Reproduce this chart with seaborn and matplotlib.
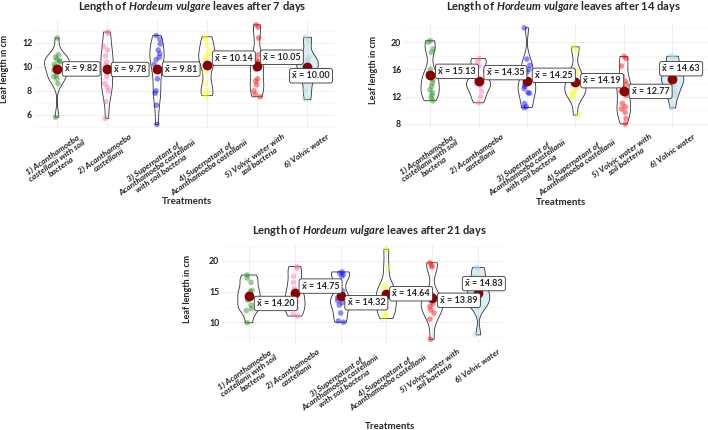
import numpy as np
import pandas as pd
import matplotlib
matplotlib.use("Agg")
import matplotlib.pyplot as plt
import seaborn as sns

# treatments (x axis) and point colours
treatments = [
    "1) Acanthamoeba\ncastellanii with soil\nbacteria",
    "2) Acanthamoeba\ncastellanii",
    "3) Supernatant of\nAcanthamoeba castellanii\nwith soil bacteria",
    "4) Supernatant of\nAcanthamoeba castellanii",
    "5) Volvic water with\nsoil bacteria",
    "6) Volvic water",
]
colors = ["forestgreen", "hotpink", "blue", "yellow", "red", "lightblue"]

# leaf lengths (cm), one list per treatment
day7 = [
    [12.4, 11.0, 10.8, 10.6, 10.5, 10.4, 10.2, 10.0, 9.7, 9.3, 9.2, 9.0, 8.6, 5.8],
    [12.9, 12.8, 11.7, 11.4, 10.9, 10.4, 10.1, 9.8, 9.2, 8.6, 8.3, 8.0, 7.1, 5.7],
    [12.6, 12.3, 11.9, 11.4, 11.1, 10.8, 10.6, 10.2, 9.6, 9.0, 8.0, 7.8, 6.8, 5.2],
    [12.5, 12.3, 11.8, 11.3, 11.0, 10.8, 10.5, 10.2, 9.5, 8.6, 8.0, 7.7, 7.6],
    [13.5, 13.3, 12.4, 11.0, 10.4, 10.6, 10.2, 9.8, 9.0, 8.8, 8.5, 8.0, 7.7, 7.5],
    [12.5, 12.2, 10.6, 10.8, 10.5, 10.3, 10.0, 9.7, 9.3, 8.8, 8.0, 7.3],
]
day14 = [
    [20.2, 20.0, 19.0, 18.5, 16.0, 14.8, 15.4, 14.5, 14.0, 13.5, 13.0, 12.6, 12.2, 11.8, 11.4],
    [17.6, 17.2, 16.5, 14.6, 13.9, 14.2, 13.6, 12.8, 12.0, 11.1],
    [22.1, 17.5, 16.6, 16.0, 15.6, 14.2, 13.8, 13.5, 13.2, 12.5, 12.6, 11.0, 10.5, 10.4],
    [19.3, 18.8, 15.8, 15.3, 14.5, 14.0, 13.5, 13.0, 12.6, 12.3, 11.9, 9.3],
    [17.9, 17.6, 16.5, 15.0, 14.3, 13.8, 13.2, 12.8, 12.2, 11.0, 10.5, 10.2, 9.7, 8.8, 8.0],
    [18.0, 17.8, 16.5, 15.5, 14.8, 14.2, 14.9, 12.8, 13.8, 12.2, 10.4],
]
day21 = [
    [17.7, 17.2, 16.5, 15.2, 15.0, 14.2, 13.6, 12.8, 12.2, 11.9, 9.9],
    [19.1, 18.8, 17.5, 16.5, 15.5, 14.8, 14.0, 13.4, 12.8, 12.3, 11.3, 11.0],
    [18.2, 18.0, 17.8, 17.5, 15.1, 14.0, 13.5, 13.2, 12.8, 11.5, 10.2, 10.0],
    [21.9, 18.9, 16.0, 15.5, 14.8, 14.0, 13.5, 12.8, 11.8, 11.2, 10.6],
    [19.7, 19.3, 19.0, 13.7, 14.4, 13.8, 13.0, 12.6, 12.0, 11.5, 10.5, 7.2],
    [19.0, 18.8, 17.5, 16.5, 15.8, 15.0, 14.5, 14.0, 13.2, 13.3, 12.4, 8.0],
]

# where each mean label sits relative to its mean dot (pixels)
nudge7 = [(8, 0, "left"), (7, 0, "left"), (8, 0, "left"), (8, 7, "left"), (6, 9, "left"), (4, -9, "center")]
nudge14 = [(8, 4, "left"), (8, 8, "left"), (8, 6, "left"), (8, 1, "left"), (8, 0, "left"), (9, 10, "center")]
nudge21 = [(8, -7, "left"), (7, 7, "left"), (7, -7, "left"), (6, 0, "left"), (8, -2, "left"), (6, 9, "center")]

sns.set_style("white")
plt.rcParams["font.family"] = ["Lato", "DejaVu Sans"]
plt.rcParams["mathtext.fontset"] = "custom"
plt.rcParams["mathtext.it"] = "Lato:italic:bold"
plt.rcParams["mathtext.rm"] = "Lato:bold"
np.random.seed(3)

fig = plt.figure(figsize=(7.08, 4.30), dpi=100)
W, H = 708, 430


def panel(box, groups, nudges, days, xlim, ylim, yticks, yminor, xlab_pos, ylab_x, title_pad):
    left, top, right, bottom = box
    ax = fig.add_axes([left / W, 1 - bottom / H, (right - left) / W, (bottom - top) / H])
    df = pd.DataFrame({
        "treatment": np.repeat(treatments, [len(g) for g in groups]),
        "length": np.concatenate(groups),
    })
    sns.violinplot(data=df, x="treatment", y="length", order=treatments, hue="treatment",
                   hue_order=treatments, palette=colors, legend=False, cut=0, inner=None,
                   density_norm="area", common_norm=True, width=0.5, linewidth=0.6,
                   linecolor="#333333", bw_method="silverman", bw_adjust=0.6, ax=ax)
    for i, coll in enumerate(ax.collections):
        coll.set_facecolor("none" if i < 5 else (0.68, 0.85, 0.90, 0.45))
    sns.stripplot(data=df, x="treatment", y="length", order=treatments, hue="treatment",
                  hue_order=treatments, palette=colors, legend=False, alpha=0.45, size=4,
                  jitter=0.07, linewidth=0, ax=ax)
    sns.pointplot(data=df, x="treatment", y="length", order=treatments, estimator="mean",
                  errorbar=None, linestyle="none", color="darkred", markersize=5, ax=ax)
    for c in ax.collections[-1:]:
        c.set_zorder(6)
    for line in ax.lines:
        line.set_zorder(6)

    means = df.groupby("treatment", sort=False)["length"].mean()
    for i, t in enumerate(treatments):
        dx, dy, ha = nudges[i]
        ax.annotate(f"x\u0304 = {means[t]:.2f}", xy=(i, means[t]), xytext=(dx, dy),
                    textcoords="offset pixels", ha=ha, va="center", fontsize=6.5,
                    fontweight="bold", zorder=10,
                    bbox=dict(boxstyle="round,pad=0.3,rounding_size=0.25", fc="white",
                              ec="#333333", lw=0.6))

    ax.set_xlim(*xlim)
    ax.set_ylim(*ylim)
    ax.set_yticks(yticks)
    ax.set_yticks(yminor, minor=True)
    ax.set_axisbelow(True)
    ax.grid(which="major", color="#ebebeb", lw=0.6)
    ax.grid(which="minor", axis="y", color="#f4f4f4", lw=0.5)
    for s in ax.spines.values():
        s.set_visible(False)
    ax.tick_params(axis="y", length=0, pad=2, labelsize=6.3)
    ax.tick_params(axis="x", length=0, pad=3.5)
    ax.tick_params(which="minor", length=0)
    for lab in ax.get_yticklabels():
        lab.set_fontweight("bold")
        lab.set_color("#222222")
    ax.set_xticks(range(6))
    ax.set_xticklabels(treatments, rotation=35, ha="center", va="top", fontstyle="italic",
                       fontweight="bold", fontsize=6, linespacing=0.95,
                       multialignment="center", color="#222222")
    ax.set_xlabel("Treatments", fontsize=7, fontweight="bold")
    ax.xaxis.set_label_coords(*xlab_pos)
    ax.xaxis.label.set_va("center")
    ax.set_ylabel("Leaf length in cm", fontsize=6.5, fontweight="bold")
    ax.yaxis.set_label_coords(ylab_x, 0.55)
    ax.yaxis.label.set_va("center")
    ax.text(0.525, 1 + title_pad / (bottom - top),
            f"Length of $Hordeum\\ vulgare$ leaves after {days} days",
            transform=ax.transAxes, ha="center", va="center", fontsize=8, fontweight="bold")
    return ax


panel((35, 20, 335, 128), day7, nudge7, 7, (-0.44, 5.56), (4.9, 13.9),
      [6, 8, 10, 12], [5, 7, 9, 11, 13], (0.507, -0.685), -0.103, 13)
panel((404, 23, 708, 128), day14, nudge14, 14, (-0.54, 5.74), (7.4, 22.8),
      [8, 12, 16, 20], [10, 14, 18, 22], (0.516, -0.714), -0.099, 16)
panel((222, 245, 503, 343), day21, nudge21, 21, (-0.59, 5.55), (6.6, 22.6),
      [10, 15, 20], [7.5, 12.5, 17.5, 22.5], (0.598, -0.847), -0.121, 15)

fig.savefig("out.png", dpi=100)
